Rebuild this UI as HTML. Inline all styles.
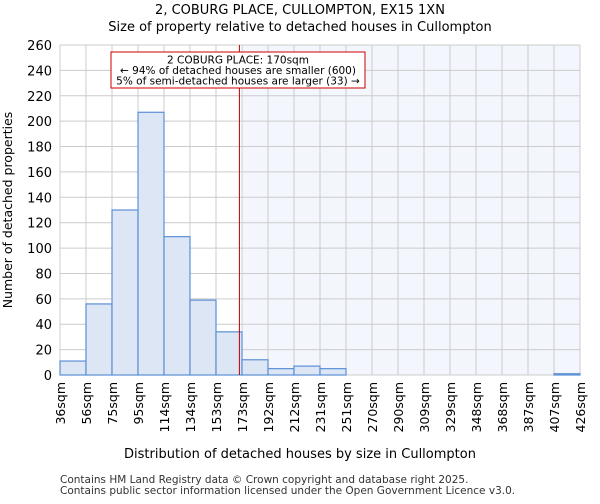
<!DOCTYPE html>
<html><head><meta charset="utf-8"><style>
body{margin:0;background:#fff;font-family:"DejaVu Sans","Liberation Sans",sans-serif;}
</style></head><body>
<svg id="chart" width="600" height="500" xmlns="http://www.w3.org/2000/svg" font-family="DejaVu Sans, Liberation Sans, sans-serif">
<text x="300" y="14" text-anchor="middle" font-size="13">2, COBURG PLACE, CULLOMPTON, EX15 1XN</text>
<text x="300" y="31" text-anchor="middle" font-size="13">Size of property relative to detached houses in Cullompton</text>
<g id="plot"></g>
<text x="300" y="458" text-anchor="middle" font-size="13">Distribution of detached houses by size in Cullompton</text>
<text transform="translate(12,210) rotate(-90)" text-anchor="middle" font-size="12.5">Number of detached properties</text>
<text x="60" y="483" font-size="10.5" fill="#333">Contains HM Land Registry data © Crown copyright and database right 2025.</text>
<text x="60" y="494" font-size="10.5" fill="#333">Contains public sector information licensed under the Open Government Licence v3.0.</text>
</svg>
<script>
const binLabels=["36sqm","56sqm","75sqm","95sqm","114sqm","134sqm","153sqm","173sqm","192sqm","212sqm","231sqm","251sqm","270sqm","290sqm","309sqm","329sqm","348sqm","368sqm","387sqm","407sqm","426sqm"];
const counts=[11,56,130,207,109,59,34,12,5,7,5,0,0,0,0,0,0,0,0,1];
const yTicks=[0,20,40,60,80,100,120,140,160,180,200,220,240,260];
const markerBin=6.9;
const shadeFromBin=7;
const L=60,R=580,T=45,B=375,yMax=260;
const bw=(R-L)/counts.length;
const x=i=>L+i*bw;
const y=v=>B-(v/yMax)*(B-T);
const NS="http://www.w3.org/2000/svg";
const g=document.getElementById('plot');
function mk(t,a){const e=document.createElementNS(NS,t);for(const k in a)e.setAttribute(k,a[k]);g.appendChild(e);return e;}
let e;
e=mk('rect',{x:x(shadeFromBin),y:T,width:R-x(shadeFromBin),height:B-T,fill:'#f3f6fd'});


for(let i=0;i<=counts.length;i++){
 e=mk('line',{x1:x(i),x2:x(i),y1:T,y2:B,stroke:'#cccccc','stroke-width':1});
 
 
}
yTicks.forEach(v=>{
 e=mk('line',{x1:L,x2:R,y1:y(v),y2:y(v),stroke:'#cccccc','stroke-width':1});
 
 
 e=mk('text',{x:L-8,y:y(v)+5,'text-anchor':'end','font-size':13});
 e.textContent=v;
 
 
});
counts.forEach((c,i)=>{
 e=mk('rect',{x:x(i),y:y(c),width:bw,height:B-y(c),fill:'#dce6f4',stroke:'#5b8fd6','stroke-width':1.2});
 
 
});
binLabels.forEach((l,i)=>{
 e=mk('text',{transform:`translate(${x(i)+5},382) rotate(-90)`,'text-anchor':'end','font-size':12.5});
 e.textContent=l;
 
 
});
e=mk('line',{x1:x(markerBin),x2:x(markerBin),y1:T,y2:B,stroke:'#bb0000','stroke-width':1});


e=mk('rect',{x:111,y:52,width:254,height:36,fill:'#fff',stroke:'#cc0000','stroke-width':1});


["2 COBURG PLACE: 170sqm","← 94% of detached houses are smaller (600)","5% of semi-detached houses are larger (33) →"].forEach((t,i)=>{
 e=mk('text',{x:238,y:63.5+i*10.5,'text-anchor':'middle','font-size':10.5,textLength:i==0?'':''});
 e.removeAttribute('textLength');
 e.textContent=t;
 
 
});
</script>
</body></html>
